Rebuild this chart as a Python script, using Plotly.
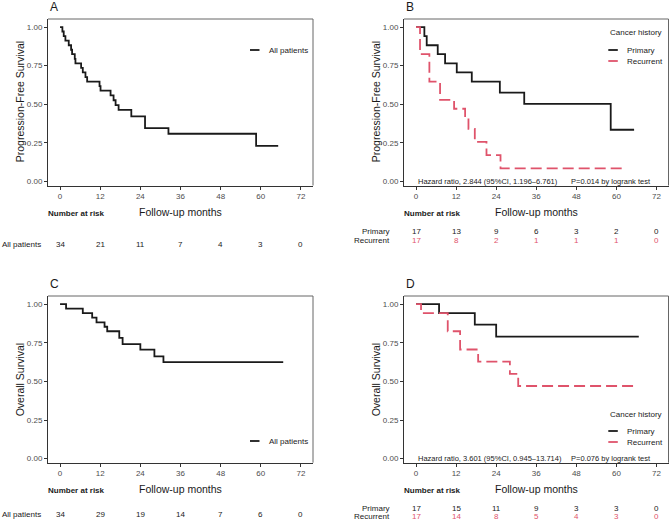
import plotly.graph_objects as go

W, H = 669, 521

# ---------------- data ----------------
months_ticks = [0, 12, 24, 36, 48, 60, 72]

# A: PFS, all patients
pfs_all_t = [0, 0.7, 1.1, 1.6, 2.6, 3.3, 3.6, 4.4, 4.6, 6.3, 6.8, 7.6, 8.1, 11.8, 12.1,
             15.1, 16.0, 16.6, 17.5, 21.3, 25.4, 32.4, 58.6, 65.2]
pfs_all_s = [1, 0.971, 0.941, 0.912, 0.882, 0.853, 0.824, 0.794, 0.765, 0.735, 0.706, 0.676,
             0.647, 0.618, 0.588, 0.557, 0.526, 0.495, 0.464, 0.421, 0.346, 0.309, 0.231, 0.231]

# B: PFS by cancer history
pfs_pri_t = [0, 2.5, 3.2, 6.5, 8.7, 12.2, 16.7, 25.1, 32.4, 58.3, 65.3]
pfs_pri_s = [1, 0.941, 0.882, 0.824, 0.765, 0.706, 0.647, 0.575, 0.503, 0.335, 0.335]
pfs_rec_t = [0, 1.2, 4.0, 7.2, 11.4, 14.7, 15.7, 17.6, 21.1, 25.3, 63.0]
pfs_rec_s = [1, 0.824, 0.647, 0.529, 0.471, 0.412, 0.341, 0.256, 0.171, 0.085, 0.085]

# C: OS, all patients
os_all_t = [0, 1.8, 6.8, 9.6, 10.9, 13.3, 14.1, 17.7, 18.7, 24.0, 28.2, 30.9, 66.7]
os_all_s = [1, 0.971, 0.941, 0.912, 0.882, 0.853, 0.824, 0.781, 0.741, 0.705, 0.662, 0.625, 0.625]

# D: OS by cancer history
os_pri_t = [0, 6.9, 17.6, 24.0, 66.7]
os_pri_s = [1, 0.941, 0.867, 0.789, 0.789]
os_rec_t = [0, 1.5, 9.5, 13.2, 18.6, 28.1, 30.6, 65.0]
os_rec_s = [1, 0.941, 0.824, 0.706, 0.627, 0.549, 0.470, 0.470]

# numbers at risk
pfs_all_risk = [34, 21, 11, 7, 4, 3, 0]
pfs_pri_risk = [17, 13, 9, 6, 3, 2, 0]
pfs_rec_risk = [17, 8, 2, 1, 1, 1, 0]
os_all_risk = [34, 29, 19, 14, 7, 6, 0]
os_pri_risk = [17, 15, 11, 9, 3, 3, 0]
os_rec_risk = [17, 14, 8, 5, 4, 3, 0]

hr_b = "Hazard ratio, 2.844 (95%CI, 1.196–6.761)"
p_b = "P=0.014 by logrank test"
hr_d = "Hazard ratio, 3.601 (95%CI, 0.945–13.714)"
p_d = "P=0.076 by logrank test"

# ---------------- style ----------------
FONT = "Liberation Sans, Arial, sans-serif"
BLACK = "#1a1a1a"
RED = "#DF536B"
XR = [-3.6, 75.6]
YR = [-0.026, 1.052]


def px(x):
    return x / W


def py(y):
    return 1 - y / H


fig = go.Figure()

panels = {
    # name: (xaxis id, yaxis id, left, right, top, bottom)
    "A": ("x", "y", 48, 313, 19, 185.5),
    "B": ("x2", "y2", 404, 668.5, 19, 185.5),
    "C": ("x3", "y3", 48, 313, 296, 462.7),
    "D": ("x4", "y4", 404, 668.5, 296, 462.7),
}

curves = {
    "A": [(pfs_all_t, pfs_all_s, BLACK, "solid")],
    "B": [(pfs_pri_t, pfs_pri_s, BLACK, "solid"), (pfs_rec_t, pfs_rec_s, RED, "11px,5px")],
    "C": [(os_all_t, os_all_s, BLACK, "solid")],
    "D": [(os_pri_t, os_pri_s, BLACK, "solid"), (os_rec_t, os_rec_s, RED, "11px,5px")],
}

for name, (xa, ya, l, r, t, b) in panels.items():
    for tt, ss, col, dash in curves[name]:
        fig.add_trace(go.Scatter(x=tt, y=ss, xaxis=xa, yaxis=ya, mode="lines",
                                 line=dict(color=col, width=1.8, dash=dash, shape="hv"),
                                 showlegend=False, hoverinfo="skip"))

axis_common = dict(showgrid=False, zeroline=False, showline=True, linecolor="#333333",
                   linewidth=1, ticks="outside", ticklen=3, tickcolor="#333333", tickwidth=1,
                   tickfont=dict(size=8, color="#4D4D4D", family=FONT))

layout = dict(width=W, height=H, margin=dict(l=0, r=0, t=0, b=0),
              paper_bgcolor="white", plot_bgcolor="white",
              font=dict(family=FONT, color=BLACK), showlegend=False)

annotations = []
shapes = []

for i, (name, (xa, ya, l, r, t, b)) in enumerate(panels.items()):
    suf = "" if i == 0 else str(i + 1)
    layout["xaxis" + suf] = dict(axis_common, domain=[px(l), px(r)], range=XR,
                                 tickvals=months_ticks, anchor=ya)
    layout["yaxis" + suf] = dict(axis_common, domain=[py(b), py(t)], range=YR,
                                 tickvals=[0, 0.25, 0.5, 0.75, 1.0], tickformat=".2f",
                                 anchor=xa)
    # top / right border
    shapes.append(dict(type="line", xref=xa + " domain", yref=ya + " domain",
                       x0=0, x1=1, y0=1, y1=1, line=dict(color="#666666", width=1)))
    shapes.append(dict(type="line", xref=xa + " domain", yref=ya + " domain",
                       x0=1, x1=1, y0=0, y1=1, line=dict(color="#666666", width=1)))
    # panel letter
    annotations.append(dict(text=name, x=px(l), y=py(t - 12), xref="paper", yref="paper",
                            xanchor="left", yanchor="middle", showarrow=False,
                            font=dict(size=12, color=BLACK)))
    # y title
    ytitle = "Progression-Free Survival" if name in "AB" else "Overall Survival"
    annotations.append(dict(text=ytitle, x=px(l - 28), y=py((t + b) / 2), xref="paper",
                            yref="paper", textangle=-90, xanchor="center", yanchor="middle",
                            showarrow=False, font=dict(size=10.5, color=BLACK)))
    # x title
    annotations.append(dict(text="Follow-up months", x=36, xref=xa, y=py(b + 26.5),
                            yref="paper", xanchor="center", yanchor="middle", showarrow=False,
                            font=dict(size=10.5, color=BLACK)))
    annotations.append(dict(text="<b>Number at risk</b>", x=px(l - 2), y=py(b + 28),
                            xref="paper", yref="paper", xanchor="left", yanchor="middle",
                            showarrow=False, font=dict(size=8, color=BLACK)))

# risk tables
def risk_row(xa, label, label_x, anchor, ypix, values, color):
    annotations.append(dict(text=label, x=px(label_x), y=py(ypix), xref="paper", yref="paper",
                            xanchor=anchor, yanchor="middle", showarrow=False,
                            font=dict(size=8, color=BLACK)))
    for tval, v in zip(months_ticks, values):
        annotations.append(dict(text=str(v), x=tval, xref=xa, y=py(ypix), yref="paper",
                                xanchor="center", yanchor="middle", showarrow=False,
                                font=dict(size=8, color=color)))

risk_row("x", "All patients", 0, "left", 244, pfs_all_risk, BLACK)
risk_row("x2", "Primary", 392, "right", 231, pfs_pri_risk, BLACK)
risk_row("x2", "Recurrent", 392, "right", 240, pfs_rec_risk, RED)
risk_row("x3", "All patients", 0, "left", 514, os_all_risk, BLACK)
risk_row("x4", "Primary", 392, "right", 508.5, os_pri_risk, BLACK)
risk_row("x4", "Recurrent", 392, "right", 516.5, os_rec_risk, RED)

# legends (manual)
def legend_item(xl, ypix, text, color):
    shapes.append(dict(type="line", xref="paper", yref="paper", x0=px(xl), x1=px(xl + 9.5),
                       y0=py(ypix), y1=py(ypix), line=dict(color=color, width=1.8)))
    annotations.append(dict(text=text, x=px(xl + 17), y=py(ypix), xref="paper", yref="paper",
                            xanchor="left", yanchor="middle", showarrow=False,
                            font=dict(size=8, color=BLACK)))

legend_item(250, 50, "All patients", BLACK)
legend_item(250, 441, "All patients", BLACK)
for ytitle_pix, yp1, yp2 in [(33, 50, 61), (414, 431, 442)]:
    annotations.append(dict(text="Cancer history", x=px(608), y=py(ytitle_pix), xref="paper",
                            yref="paper", xanchor="left", yanchor="middle", showarrow=False,
                            font=dict(size=8, color=BLACK)))
    legend_item(608.3, yp1, "Primary", BLACK)
    legend_item(608.3, yp2, "Recurrent", RED)

# hazard ratio / p-value texts
for xa, ya, hr, pv in [("x2", "y2", hr_b, p_b), ("x4", "y4", hr_d, p_d)]:
    annotations.append(dict(text=hr, x=0, xref=xa, y=0, yref=ya, xanchor="left",
                            yanchor="middle", showarrow=False, font=dict(size=7.5, color=BLACK)))
    annotations.append(dict(text=pv, x=71, xref=xa, y=0, yref=ya, xanchor="right",
                            yanchor="middle", showarrow=False, font=dict(size=7.5, color=BLACK)))

layout["annotations"] = annotations
layout["shapes"] = shapes
fig.update_layout(**layout)
fig.write_html("out.html", config={"displayModeBar": False})

# remove default page margin so the figure sits at the window's top-left corner
with open("out.html", "r", encoding="utf-8") as f:
    html = f.read()
html = html.replace("<head>", "<head><style>html,body{margin:0;padding:0;overflow:hidden;}</style>", 1)
with open("out.html", "w", encoding="utf-8") as f:
    f.write(html)
